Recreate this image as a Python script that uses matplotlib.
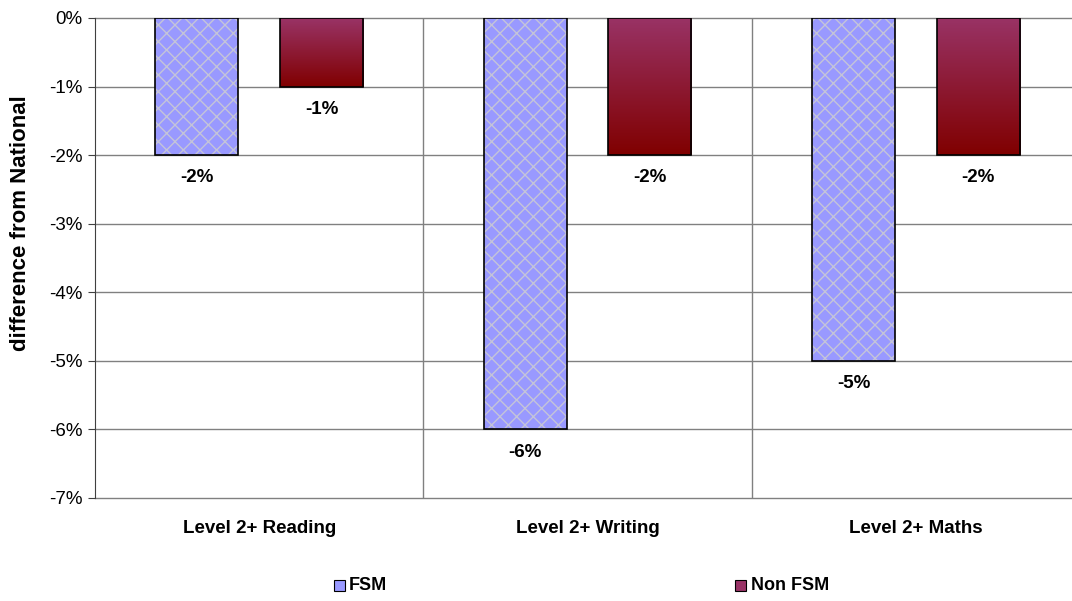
import numpy as np
import matplotlib
matplotlib.use("Agg")
import matplotlib.pyplot as plt
from matplotlib.patches import Rectangle
from matplotlib.ticker import FuncFormatter

plt.rcParams["font.family"] = ["Liberation Sans", "DejaVu Sans"]

categories = ["Level 2+ Reading", "Level 2+ Writing", "Level 2+ Maths"]
fsm = [-2, -6, -5]
non_fsm = [-1, -2, -2]
series_names = ["FSM", "Non FSM"]

fig = plt.figure(figsize=(10.72, 6.01), dpi=100)
W, H = 1072, 601
# plot area runs a little past the right edge of the canvas
ax = fig.add_axes([95 / W, 1 - 498 / H, 985 / W, 480 / H])

x = np.arange(len(categories))
width = 0.253
off = 0.19

ax.set_xlim(-0.5, 2.5)
ax.set_ylim(-7, 0)

# grid
for v in range(-7, 1):
    ax.axhline(v, color="#808080", lw=1.0, zorder=1, clip_on=False)
for b in [0.5, 1.5]:
    ax.axvline(b, color="#808080", lw=1.0, zorder=1)

# FSM bars: lavender with light grey hatch
ax.bar(x - off, fsm, width, color="#9999FF", edgecolor="#C4C4D8",
       hatch="xx", linewidth=0, zorder=2)
ax.bar(x - off, fsm, width, color="none", edgecolor="black", linewidth=1.2, zorder=3)

# Non FSM bars: vertical gradient
grad = np.linspace(0, 1, 256).reshape(-1, 1)
cmap = matplotlib.colors.LinearSegmentedColormap.from_list("nf", ["#993366", "#800000"])
for xi, v in zip(x + off, non_fsm):
    rect = Rectangle((xi - width / 2, v), width, -v, facecolor="none",
                     edgecolor="black", linewidth=1.2, zorder=3)
    ax.add_patch(rect)
    im = ax.imshow(grad, cmap=cmap, aspect="auto", zorder=2,
                   extent=(xi - width / 2, xi + width / 2, v, 0), origin="upper")
    im.set_clip_path(rect)
ax.set_xlim(-0.5, 2.5)
ax.set_ylim(-7, 0)

# value labels under bar ends
for xi, v in zip(x - off, fsm):
    ax.text(xi, v - 0.33, f"{v}%", ha="center", va="center",
            fontsize=13.5, fontweight="bold")
for xi, v in zip(x + off, non_fsm):
    ax.text(xi, v - 0.33, f"{v}%", ha="center", va="center",
            fontsize=13.5, fontweight="bold")

ax.set_yticks(range(-7, 1))
ax.yaxis.set_major_formatter(FuncFormatter(lambda v, p: f"{int(v)}%"))
ax.tick_params(axis="y", length=5, direction="out", labelsize=13.5, color="#404040", pad=4)
ax.set_xticks(x)
ax.set_xticklabels(categories, fontsize=13.5, fontweight="bold")
ax.tick_params(axis="x", length=0, pad=16)

for s in ["top", "right", "bottom"]:
    ax.spines[s].set_visible(False)
ax.spines["left"].set_color("#404040")

ax.set_ylabel("difference from National", fontsize=16, fontweight="bold")
ax.yaxis.set_label_coords(-64 / 985, 275 / 480)

# legend
fig.patches.append(Rectangle((334 / W, 1 - 591 / H), 11 / W, 11 / H,
                             facecolor="#9999FF", edgecolor="black", lw=0.8,
                             transform=fig.transFigure))
fig.text(349 / W, 1 - 585 / H, series_names[0], fontsize=13, fontweight="bold", va="center")
fig.patches.append(Rectangle((735 / W, 1 - 591 / H), 11 / W, 11 / H,
                             facecolor="#993366", edgecolor="black", lw=0.8,
                             transform=fig.transFigure))
fig.text(751 / W, 1 - 585 / H, series_names[1], fontsize=13, fontweight="bold", va="center")

fig.savefig("out.png", dpi=100)
